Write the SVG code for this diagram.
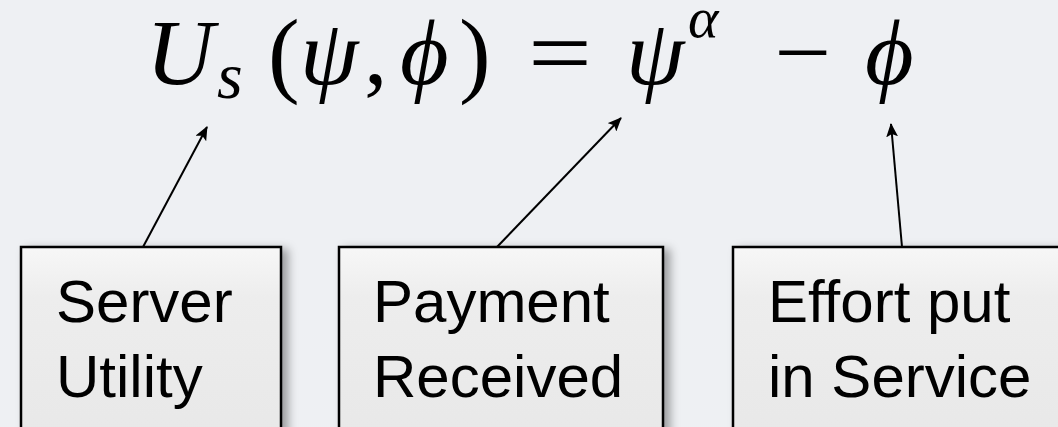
<svg xmlns="http://www.w3.org/2000/svg" width="1058" height="427" viewBox="0 0 1058 427">
<defs>
<linearGradient id="boxfill" x1="0" y1="0" x2="0" y2="1">
<stop offset="0" stop-color="#f7f7f7"/>
<stop offset="0.25" stop-color="#ededed"/>
<stop offset="1" stop-color="#e8e8e8"/>
</linearGradient>
<filter id="shadow" x="-10%" y="-10%" width="130%" height="130%">
<feDropShadow dx="6" dy="3" stdDeviation="5" flood-color="#000" flood-opacity="0.35"/>
</filter>
<marker id="arrow" viewBox="0 0 14 12" refX="13" refY="6" markerWidth="14" markerHeight="12" markerUnits="userSpaceOnUse" orient="auto">
<path d="M0,0 L14,6 L0,12 L3,6 z" fill="#000"/>
</marker>
</defs>
<style>
.box{fill:url(#boxfill);stroke:#000;stroke-width:2.5;filter:url(#shadow)}
.lbl{font-family:"Liberation Sans",Arial,sans-serif;font-size:60px;fill:#000}
.m{font-family:"Liberation Serif","DejaVu Serif",serif;font-style:italic;fill:#000}
.r{font-family:"Liberation Serif","DejaVu Serif",serif;fill:#000}
.conn{stroke:#000;stroke-width:2;fill:none;marker-end:url(#arrow)}
</style>
<rect width="1058" height="427" fill="#eef0f3"/>
<g id="equation">
<text class="m" x="146" y="84" font-size="94">U</text>
<text class="m" x="217" y="98" font-size="66">s</text>
<text class="r" x="268" y="85" font-size="95">(</text>
<text class="m" x="300" y="84" font-size="94">ψ</text>
<text class="r" x="364" y="84" font-size="94">,</text>
<text class="m" x="400" y="84" font-size="94">ϕ</text>
<text class="r" x="459" y="85" font-size="95">)</text>
<text class="r" x="528" y="84" font-size="94" textLength="64" lengthAdjust="spacingAndGlyphs">=</text>
<text class="m" x="626" y="84" font-size="94">ψ</text>
<text class="m" x="688" y="37" font-size="58">α</text>
<text class="r" x="774" y="84" font-size="94" textLength="57" lengthAdjust="spacingAndGlyphs">−</text>
<text class="m" x="865" y="84" font-size="94">ϕ</text>
</g>
<g id="connectors">
<line class="conn" x1="143" y1="247" x2="207" y2="127"/>
<line class="conn" x1="497" y1="247" x2="621" y2="118"/>
<line class="conn" x1="902" y1="247" x2="891" y2="124"/>
</g>
<g id="node-server">
<rect class="box" x="21" y="247" width="260" height="200"/>
<text class="lbl" x="56" y="322">Server</text>
<text class="lbl" x="56" y="397">Utility</text>
</g>
<g id="node-payment">
<rect class="box" x="339" y="247" width="324" height="200"/>
<text class="lbl" x="373" y="322">Payment</text>
<text class="lbl" x="373" y="397">Received</text>
</g>
<g id="node-effort">
<rect class="box" x="733" y="247" width="340" height="200"/>
<text class="lbl" x="768" y="322">Effort put</text>
<text class="lbl" x="768" y="397">in Service</text>
</g>
</svg>
